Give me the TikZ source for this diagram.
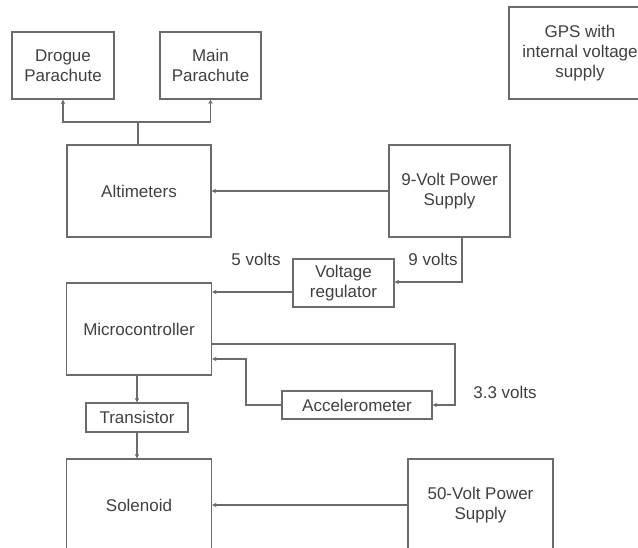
\documentclass[tikz,border=0pt]{standalone}
\usepackage{fontspec}
\setmainfont{Liberation Sans}
\usetikzlibrary{arrows.meta}

\definecolor{linegray}{HTML}{6B6B6B}
\definecolor{textgray}{HTML}{404040}

\begin{document}
\begin{tikzpicture}[x=1pt,y=-1pt,
  box/.style={draw=linegray,line width=1.2pt,text=textgray,align=center,inner sep=0pt,font=\fontsize{17}{20}\selectfont},
  wire/.style={draw=linegray,line width=1.1pt,-{Stealth[length=4.5pt,width=4.5pt]}},
  volts/.style={text=textgray,font=\fontsize{17}{20}\selectfont}]
\useasboundingbox (0,0) rectangle (638,548);
\clip (0,0) rectangle (638,548);
% top row
\node[box,minimum width=102,minimum height=67] (drogue) at (63,65.5) {Drogue\\Parachute};
\node[box,minimum width=101,minimum height=67] (main) at (210.5,65.5) {Main\\Parachute};
\node[box,minimum width=142,minimum height=92] (gps) at (580,53) {GPS with\\internal voltage\\supply};
% altimeters and power
\node[box,minimum width=144,minimum height=92] (alt) at (139,191) {Altimeters};
\node[box,minimum width=121,minimum height=92] (nine) at (449.5,191) {9-Volt Power\\Supply};
\node[box,minimum width=101,minimum height=48] (vreg) at (343.5,283) {Voltage\\regulator};
\node[box,minimum width=145,minimum height=92] (micro) at (139,329) {Microcontroller};
\node[box,minimum width=150,minimum height=28] (accel) at (357,405) {Accelerometer};
\node[box,minimum width=102,minimum height=29] (trans) at (137,417.5) {Transistor};
\node[box,minimum width=145,minimum height=92] (sol) at (139,505) {Solenoid};
\node[box,minimum width=145,minimum height=92] (fifty) at (480.5,505) {50-Volt Power\\Supply};
% labels
\node[volts] (lbl5) at (256,259) {5 volts};
\node[volts] (lbl9) at (433,259) {9 volts};
\node[volts] (lbl33) at (505,392) {3.3 volts};
% connectors
\coordinate (split) at (138,122);
\draw[draw=linegray,line width=1.1pt] (alt.north -| split) -- (split);
\draw[wire] (split) -| (drogue);
\draw[wire] (split) -| (main);
\draw[wire] (nine) -- (alt);
\draw[wire] ([xshift=12.5pt]nine.south) |- ([yshift=1pt]vreg.east);
\draw[wire] ([yshift=-9pt]vreg.west) coordinate (v5) -- (v5 -| micro.east);
\coordinate (r33) at (455,344);
\draw[wire] (r33 -| micro.east) -- (r33) |- (accel.east);
\coordinate (aup) at (246,359);
\draw[wire] (accel.west) -| (aup) -- (aup -| micro.east);
\draw[wire] (trans.north |- micro.south) -- (trans.north);
\draw[wire] (trans.south) -- (trans.south |- sol.north);
\draw[wire] (fifty) -- (sol);
\end{tikzpicture}
\end{document}
